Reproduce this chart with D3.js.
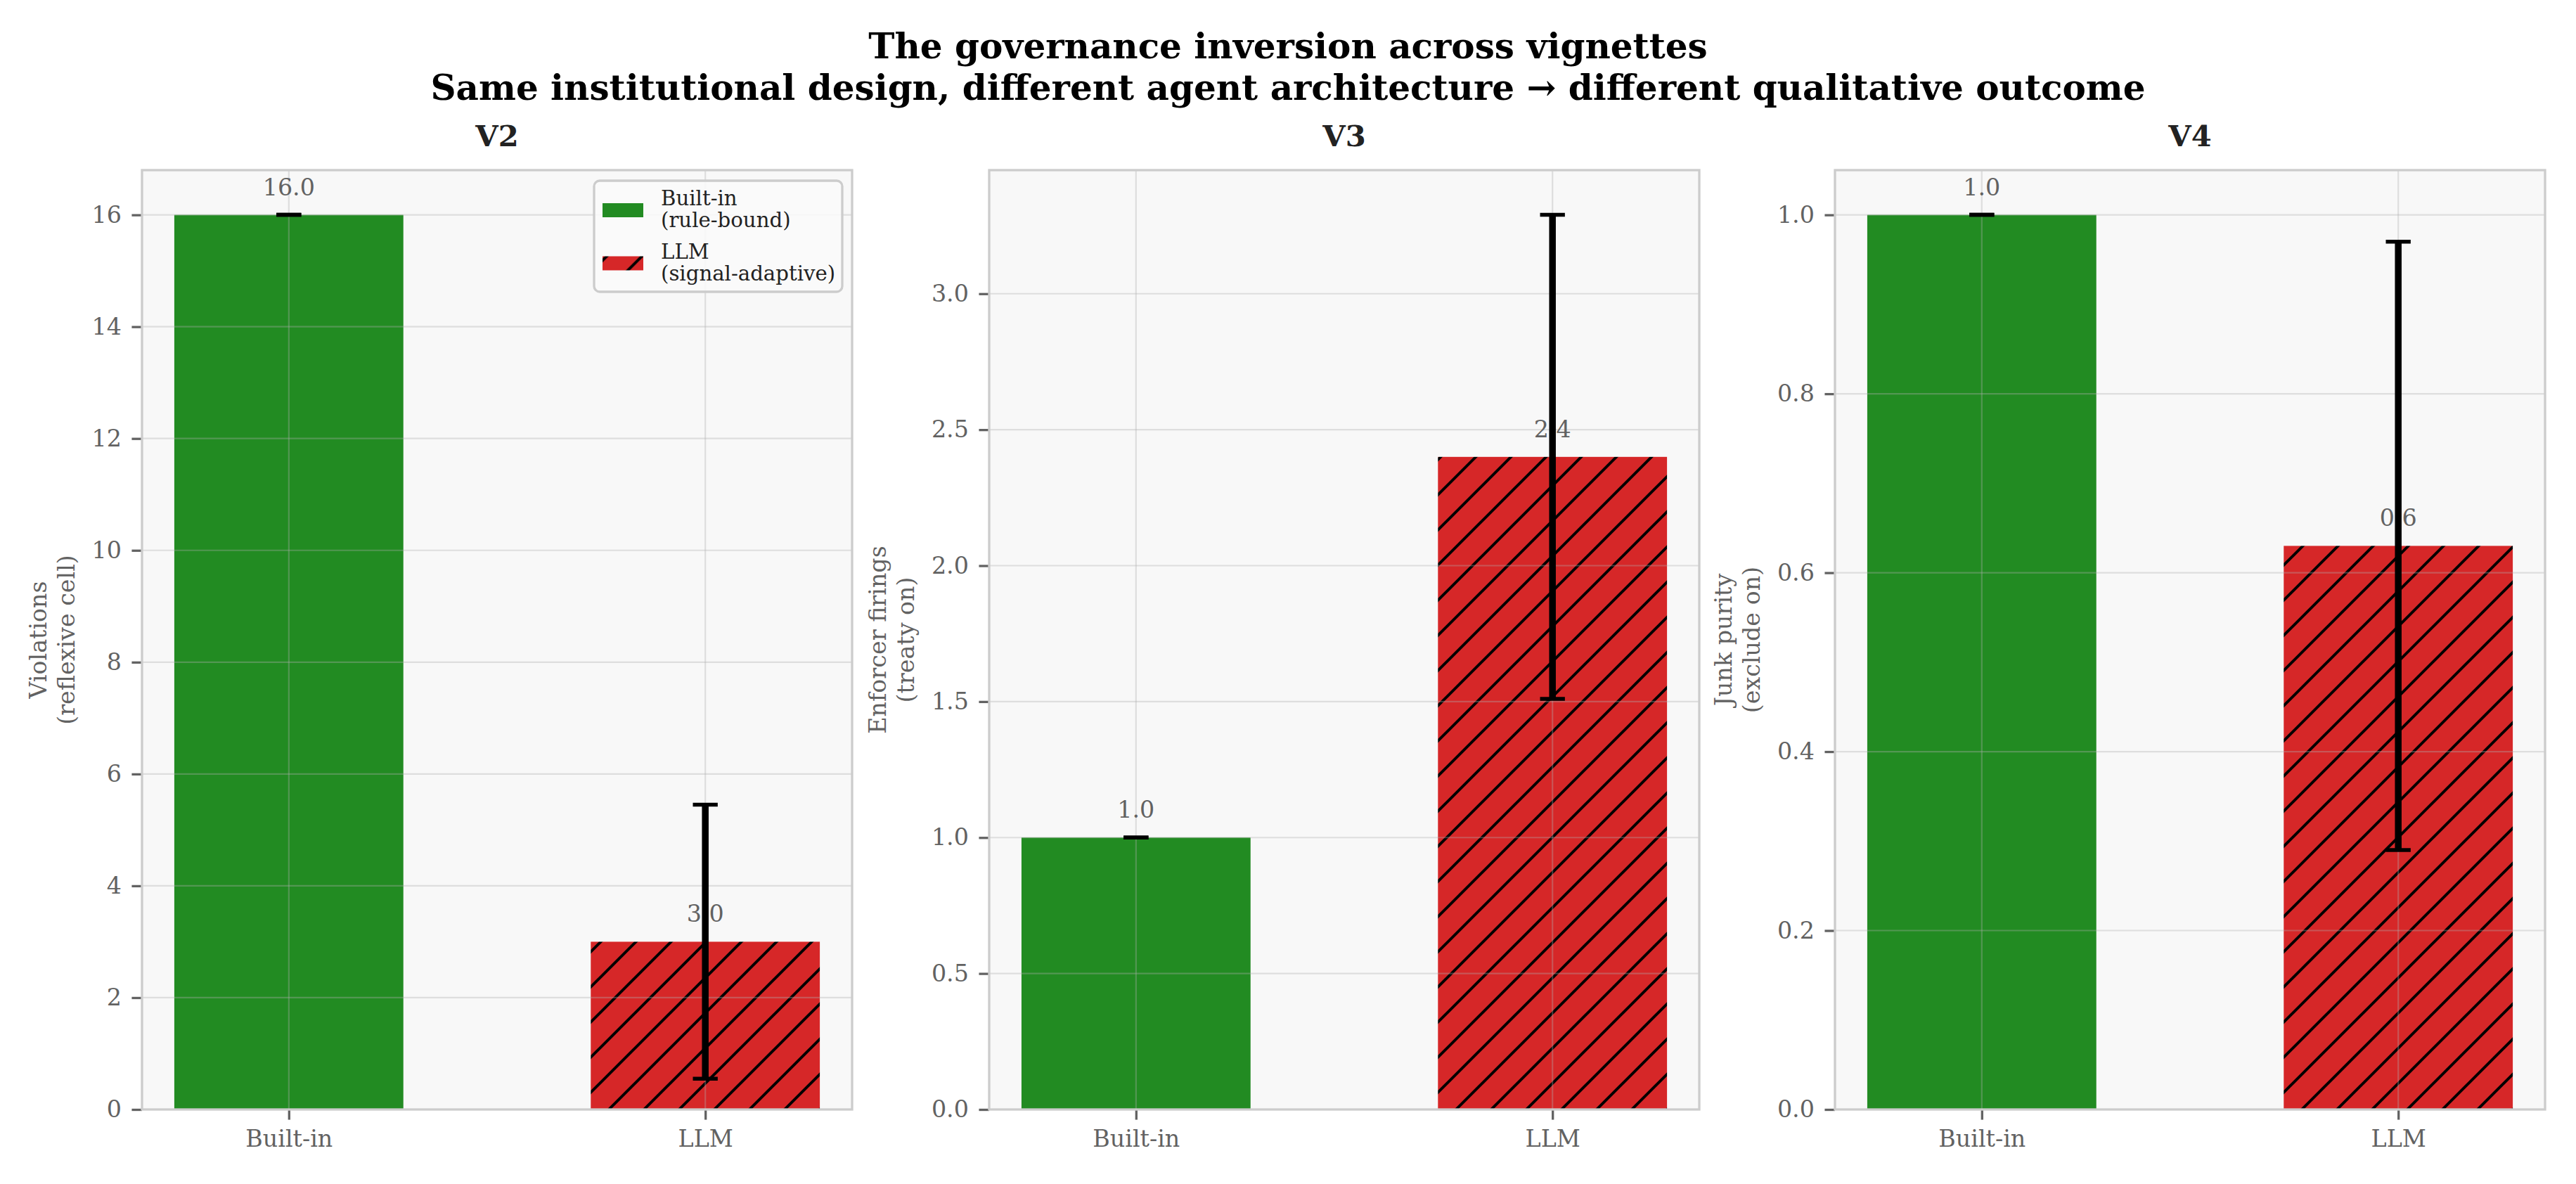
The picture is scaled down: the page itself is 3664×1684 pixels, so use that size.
<!DOCTYPE html>
<html>
<head>
<meta charset="utf-8">
<script src="https://cdn.jsdelivr.net/npm/d3@7"></script>
<style>
  body { margin: 0; background: #ffffff; }
  text { font-family: "DejaVu Serif", serif; }
</style>
</head>
<body>
<div id="chart"></div>
<script>
// data
var vignettes = ["V2", "V3", "V4"];
var agents = ["Built-in", "LLM"];
var legendLines = [["Built-in", "(rule-bound)"], ["LLM", "(signal-adaptive)"]];
var means = [[16.0, 3.0], [1.0, 2.4], [1.0, 0.63]];
var errors = [[0, 2.45], [0, 0.89], [0, 0.34]];
var yLabels = [["Violations", "(reflexive cell)"], ["Enforcer firings", "(treaty on)"], ["Junk purity", "(exclude on)"]];
var yTicks = [
    [0, 2, 4, 6, 8, 10, 12, 14, 16],
    [0.0, 0.5, 1.0, 1.5, 2.0, 2.5, 3.0],
    [0.0, 0.2, 0.4, 0.6, 0.8, 1.0]
];
var tickFormats = ["d", ".1f", ".1f"];
var title1 = "The governance inversion across vignettes";
var title2 = "Same institutional design, different agent architecture \u2192 different qualitative outcome";

window.onload = function() {
    draw();
};

function draw() {
    var width = 3664;
    var height = 1684;
    var panel = {top: 242, bottom: 1578, width: 1010, lefts: [202, 1407, 2610]};
    var colors = ["#228B22", "#d62728"];
    var grey = "#626262";
    var pt = 300 / 72;

    var svg = d3.select("#chart").append("svg")
        .attr("width", width).attr("height", height);
    svg.append("rect").attr("width", width).attr("height", height).attr("fill", "#ffffff");

    // hatch pattern for LLM bars
    var defs = svg.append("defs");
    var pat = defs.append("pattern")
        .attr("id", "hatch")
        .attr("patternUnits", "userSpaceOnUse")
        .attr("width", 50).attr("height", 50);
    pat.append("rect").attr("width", 50).attr("height", 50).attr("fill", colors[1]);
    pat.append("path")
        .attr("d", "M-5,55 L55,-5 M-30,30 L30,-30 M20,80 L80,20")
        .attr("stroke", "#000").attr("stroke-width", 4);

    // suptitle
    svg.append("text").text(title1)
        .attr("x", width / 2).attr("y", 83)
        .attr("text-anchor", "middle").style("font-size", "50px").style("font-weight", "bold").attr("fill", "#000");
    svg.append("text").text(title2)
        .attr("x", width / 2).attr("y", 142)
        .attr("text-anchor", "middle").style("font-size", "50px").style("font-weight", "bold").attr("fill", "#000");

    for (let p = 0; p < vignettes.length; p++) {
        var left = panel.lefts[p];
        var top = panel.top;
        var h = panel.bottom - panel.top;
        var w = panel.width;

        // matplotlib style autoscale: bars from 0, 5% headroom above error bars
        var ymax = d3.max(means[p], function(d, i) { return d + errors[p][i]; }) * 1.05;

        var xscale = d3.scaleLinear().domain([-0.3525, 1.3525]).range([0, w]);
        var yscale = d3.scaleLinear().domain([0, ymax]).range([h, 0]);
        var barw = xscale(0.55) - xscale(0);

        var g = svg.append("g").attr("transform", "translate(" + left + "," + top + ")");

        // background
        g.append("rect").attr("width", w).attr("height", h).attr("fill", "#f8f8f8");

        // bars
        g.selectAll(".bar").data(means[p]).enter().append("rect")
            .attr("class", "bar")
            .attr("x", function(d, i) { return xscale(i) - barw / 2; })
            .attr("y", function(d) { return yscale(d); })
            .attr("width", barw)
            .attr("height", function(d) { return h - yscale(d); })
            .attr("fill", function(d, i) { return i === 0 ? colors[0] : "url(#hatch)"; });

        // grid
        g.selectAll(".ygrid").data(yTicks[p]).enter().append("line")
            .attr("x1", 0).attr("x2", w)
            .attr("y1", function(d) { return yscale(d); })
            .attr("y2", function(d) { return yscale(d); })
            .attr("stroke", "#b0b0b0").attr("stroke-opacity", 0.35).attr("stroke-width", 2.2);
        g.selectAll(".xgrid").data(agents).enter().append("line")
            .attr("x1", function(d, i) { return xscale(i); })
            .attr("x2", function(d, i) { return xscale(i); })
            .attr("y1", 0).attr("y2", h)
            .attr("stroke", "#b0b0b0").attr("stroke-opacity", 0.35).attr("stroke-width", 2.2);

        // value labels
        g.selectAll(".vlabel").data(means[p]).enter().append("text")
            .text(function(d) { return d3.format(".1f")(d); })
            .attr("x", function(d, i) { return xscale(i); })
            .attr("y", function(d) { return yscale(d) - 28; })
            .attr("text-anchor", "middle")
            .style("font-size", "33.3px").attr("fill", grey);

        // error bars
        var cap = 4 * pt;
        var eb = g.selectAll(".err").data(means[p]).enter().append("g");
        eb.append("line")
            .attr("x1", function(d, i) { return xscale(i); })
            .attr("x2", function(d, i) { return xscale(i); })
            .attr("y1", function(d, i) { return yscale(d - errors[p][i]); })
            .attr("y2", function(d, i) { return yscale(d + errors[p][i]); })
            .attr("stroke", "#000").attr("stroke-width", 9.5);
        [-1, 1].forEach(function(s) {
            eb.append("line")
                .attr("x1", function(d, i) { return xscale(i) - cap - 1; })
                .attr("x2", function(d, i) { return xscale(i) + cap + 1; })
                .attr("y1", function(d, i) { return yscale(d + s * errors[p][i]); })
                .attr("y2", function(d, i) { return yscale(d + s * errors[p][i]); })
                .attr("stroke", "#000").attr("stroke-width", 5.5);
        });

        // y axis
        var yaxis = d3.axisLeft(yscale)
            .tickValues(yTicks[p])
            .tickFormat(d3.format(tickFormats[p]))
            .tickSize(3.5 * pt)
            .tickPadding(3.5 * pt);
        var ya = g.append("g").call(yaxis);
        ya.select(".domain").remove();
        ya.selectAll(".tick line").attr("stroke", grey).attr("stroke-width", 3.3);
        ya.selectAll(".tick text").attr("fill", grey).style("font-size", "33.3px")
            .style("font-family", "DejaVu Serif");

        // x axis
        var xaxis = d3.axisBottom(xscale)
            .tickValues([0, 1])
            .tickFormat(function(d) { return agents[d]; })
            .tickSize(3.5 * pt)
            .tickPadding(3.5 * pt);
        var xa = g.append("g").attr("transform", "translate(0," + h + ")").call(xaxis);
        xa.select(".domain").remove();
        xa.selectAll(".tick line").attr("stroke", grey).attr("stroke-width", 3.3);
        xa.selectAll(".tick text").attr("fill", grey).style("font-size", "33.3px")
            .style("font-family", "DejaVu Serif");

        // spines
        g.append("rect").attr("width", w).attr("height", h)
            .attr("fill", "none").attr("stroke", "#cccccc").attr("stroke-width", 3.3);

        // y label, placed left of the tick labels
        var bb = ya.node().getBBox();
        var lx = bb.x - 4 * pt - 8;
        var yl = g.append("text")
            .attr("transform", "translate(" + (lx - 40) + "," + (h / 2) + ") rotate(-90)")
            .attr("text-anchor", "middle")
            .style("font-size", "33.3px").attr("fill", grey);
        yl.append("tspan").attr("x", 0).attr("dy", 0).text(yLabels[p][0]);
        yl.append("tspan").attr("x", 0).attr("dy", 40).text(yLabels[p][1]);

        // panel title
        g.append("text").text(vignettes[p])
            .attr("x", w / 2).attr("y", -34)
            .attr("text-anchor", "middle")
            .style("font-size", "41.7px").style("font-weight", "bold").attr("fill", "#222222");

        // legend in first panel
        if (p === 0) {
            var lg = svg.append("g").attr("transform", "translate(845,257)");
            lg.append("rect").attr("width", 353).attr("height", 158)
                .attr("rx", 8).attr("ry", 8)
                .attr("fill", "#f9f9f9").attr("fill-opacity", 0.9)
                .attr("stroke", "#cccccc").attr("stroke-width", 3.3);
            var items = lg.selectAll(".item").data(legendLines).enter().append("g")
                .attr("transform", function(d, i) { return "translate(0," + (i * 75.5) + ")"; });
            items.append("rect")
                .attr("x", 12).attr("y", 32).attr("width", 58).attr("height", 20)
                .attr("fill", function(d, i) { return i === 0 ? colors[0] : "url(#hatch)"; });
            var lt = items.append("text")
                .style("font-size", "29.2px").attr("fill", "#222222");
            lt.append("tspan").attr("x", 95).attr("y", 35).text(function(d) { return d[0]; });
            lt.append("tspan").attr("x", 95).attr("y", 66).text(function(d) { return d[1]; });
        }
    }
}
</script>
</body>
</html>
